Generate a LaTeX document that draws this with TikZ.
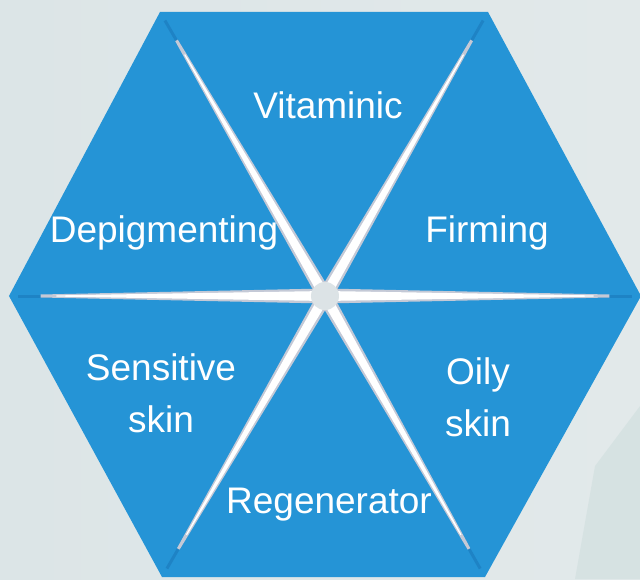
\documentclass[tikz,border=0pt]{standalone}
\usepackage{fontspec}
\setmainfont{Liberation Sans}
\usepackage{tikz}
\usetikzlibrary{calc}
\definecolor{hexblue}{HTML}{2594D6}
\definecolor{hexdark}{HTML}{1C7CBF}
\definecolor{bgleft}{HTML}{DCE5E7}
\definecolor{bgright}{HTML}{E2E9EA}
\definecolor{bgshade}{HTML}{CCDCDC}
\definecolor{gapedge}{HTML}{C4C9D6}
\definecolor{hub}{HTML}{DCE3E6}
\tikzstyle{label} = [text=white, font=\fontsize{37}{52}\selectfont, align=center, anchor=base, inner sep=0pt]

\begin{document}
\begin{tikzpicture}[x=1pt, y=1pt]
        % Background
        \useasboundingbox (-325,-283) rectangle (315,296);
        \shade [left color=bgleft, right color=bgright] (-325,-283) rectangle (315,296);
        \fill [bgshade, opacity=0.5] (315,-110) -- (270,-170) -- (250,-283) -- (315,-283) -- cycle;

        % Hexagon corners
        \coordinate (c) at (0,0);
        \coordinate (v1) at (316,0);
        \coordinate (v2) at (163,284);
        \coordinate (v3) at (-165,284);
        \coordinate (v4) at (-316,0);
        \coordinate (v5) at (-163,-281);
        \coordinate (v6) at (160,-281);
        \fill [hexblue] (v1) -- (v2) -- (v3) -- (v4) -- (v5) -- (v6) -- cycle;

        % Gaps between the parts
        \foreach \v in {v1,v2,v3,v4,v5,v6} {
            \draw [hexdark, line width=3pt, opacity=0.7] (c) -- ($(c)!0.97!(\v)$);
            \fill [gapedge] ($(c)!7.5pt!90:(\v)$) -- ($($(c)!0.9!(\v)$)!1.5pt!-90:(c)$)
                -- ($($(c)!0.9!(\v)$)!1.5pt!90:(c)$) -- ($(c)!7.5pt!-90:(\v)$) -- cycle;
            \fill [white] ($(c)!5pt!90:(\v)$) -- ($($(c)!0.85!(\v)$)!0.6pt!-90:(c)$)
                -- ($($(c)!0.85!(\v)$)!0.6pt!90:(c)$) -- ($(c)!5pt!-90:(\v)$) -- cycle;
        }
        \fill [hub] (c) circle (14pt);

        % Labels
        \node [label] (vitaminic) at (3,178) {Vitaminic};
        \node [label] (firming) at (162,54) {Firming};
        \node [label] (depigmenting) at (-161,54) {Depigmenting};
        \node [label] (sensitive) at (-164,-136) {Sensitive\\skin};
        \node [label] (oily) at (153,-140) {Oily\\skin};
        \node [label] (regenerator) at (4,-217) {Regenerator};
    \end{tikzpicture}
\end{document}
